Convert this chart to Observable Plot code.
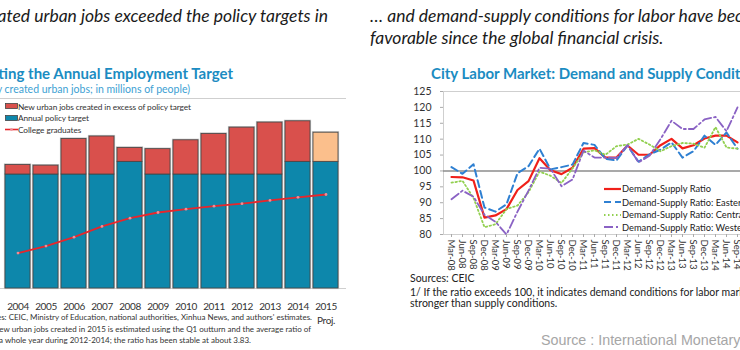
<!DOCTYPE html>
<html><head><meta charset="utf-8">
<script src="https://cdn.jsdelivr.net/npm/d3@7"></script>
<script src="https://cdn.jsdelivr.net/npm/@observablehq/plot@0.6"></script>
<style>
html,body{margin:0;padding:0;background:#fff;}
body{width:740px;height:350px;overflow:hidden;position:relative;font-family:Lato,"Open Sans",sans-serif;color:#222;}
svg{max-width:none !important;}
.abs{position:absolute;white-space:nowrap;}
.head{font-style:italic;font-size:17.5px;line-height:22px;color:#1a1a1a;}
.ttl{font-weight:bold;font-size:15px;line-height:16px;color:#1b8cc2;}
.sub{font-size:10.5px;line-height:12px;color:#3d9fd3;}
.leg{font-family:Lato,sans-serif;font-size:8.3px;line-height:10px;color:#333;letter-spacing:-0.1px;}
.cap{font-family:Lato,sans-serif;font-size:8px;line-height:10px;color:#333;}
.rleg{font-size:9.3px;line-height:12px;color:#222;}
.rcap{font-size:10.5px;line-height:11px;color:#222;}
#left{position:absolute;left:-3px;top:90px;width:349px;}
#right{position:absolute;left:370px;top:80px;width:400px;}
</style></head><body>

<div class="abs head" style="right:412px;top:5px;">Newly created urban jobs exceeded the policy targets in</div>
<div class="abs head" style="left:370px;top:5px;">… and demand-supply conditions for labor have become more<br>favorable since the global financial crisis.</div>
<div class="abs ttl" style="right:507px;top:65px;">Meeting the Annual Employment Target</div>
<div class="abs sub" style="right:550px;top:83px;">(Newly created urban jobs; in millions of people)</div>
<div class="abs ttl" style="left:431px;top:65px;">City Labor Market: Demand and Supply Conditions 1/</div>

<div id="left"></div>
<div id="right"></div>

<div id="lleg"></div>
<div id="rleg"></div>

<div class="abs cap" style="right:428px;top:312px;">Sources: CEIC, Ministry of Education, national authorities, Xinhua News, and authors' estimates.</div>
<div class="abs cap" style="right:429px;top:324px;">1/ New urban jobs created in 2015 is estimated using the Q1 outturn and the average ratio of</div>
<div class="abs cap" style="right:489px;top:335px;">Q1 to a whole year during 2012-2014; the ratio has been stable at about 3.83.</div>

<div class="abs rcap" style="left:410px;top:272.5px;">Sources: CEIC</div>
<div class="abs rcap" style="left:410px;top:286.5px;">1/ If the ratio exceeds 100, it indicates demand conditions for labor market are</div>
<div class="abs rcap" style="left:410px;top:297.5px;">stronger than supply conditions.</div>
<div class="abs" style="left:541px;top:332px;font-family:'Liberation Sans',Arial,sans-serif;font-size:14.3px;line-height:16px;color:#a6a6a6;">Source : International Monetary Fund</div>

<script>
// ---------- Left chart data ----------
const years = ["2004","2005","2006","2007","2008","2009","2010","2011","2012","2013","2014","2015"];
const policyTarget = [9, 9, 9, 9, 10, 9, 9, 9, 9, 9, 10, 10];
const newUrbanJobs = [9.75, 9.7, 11.8, 12.0, 11.1, 11.0, 11.7, 12.2, 12.7, 13.1, 13.2, 12.3];
const collegeGraduates = [2.8, 3.35, 4.05, 4.9, 5.55, 6.0, 6.26, 6.5, 6.7, 6.95, 7.2, 7.42];
const projectedYear = "2015";
const leftLegend = ["New urban jobs created in excess of policy target", "Annual policy target", "College graduates"];

// ---------- Right chart data ----------
const quarters = ["Mar-08","Jun-08","Sep-08","Dec-08","Mar-09","Jun-09","Sep-09","Dec-09",
  "Mar-10","Jun-10","Sep-10","Dec-10","Mar-11","Jun-11","Sep-11","Dec-11",
  "Mar-12","Jun-12","Sep-12","Dec-12","Mar-13","Jun-13","Sep-13","Dec-13",
  "Mar-14","Jun-14","Sep-14"];
const ratioAll     = [98.1, 98.0, 97.0, 85.3, 86.0, 88.0, 94.0, 96.8, 104.0, 100.2, 99.0, 101.0, 107.0, 107.2, 104.2, 104.2, 108.0, 105.1, 105.1, 108.1, 110.1, 107.1, 108.1, 110.2, 111.1, 111.1, 109.0];
const ratioEastern = [101.2, 99.1, 102.1, 88.5, 87.2, 89.5, 99.3, 101.5, 107.0, 100.5, 101.2, 102.0, 108.8, 108.2, 103.8, 103.3, 108.0, 102.9, 105.2, 106.7, 109.0, 104.2, 106.2, 111.1, 108.2, 112.1, 107.0];
const ratioCentral = [96.3, 96.9, 91.5, 82.3, 83.2, 88.0, 89.1, 93.3, 99.8, 98.5, 96.2, 100.8, 105.8, 106.5, 105.1, 107.8, 108.3, 110.1, 108.3, 106.2, 107.8, 108.8, 108.6, 107.3, 113.8, 107.4, 107.0];
const ratioWestern = [91.1, 93.8, 91.9, 86.2, 84.0, 80.0, 87.2, 93.8, 101.0, 100.7, 95.2, 97.3, 106.4, 104.2, 104.2, 104.1, 108.1, 102.7, 104.8, 110.0, 115.8, 113.2, 113.2, 116.2, 117.0, 112.5, 120.0];
const yTicksRight = [80, 85, 90, 95, 100, 105, 110, 115, 120, 125];
const rightLegend = ["Demand-Supply Ratio", "Demand-Supply Ratio: Eastern", "Demand-Supply Ratio: Central", "Demand-Supply Ratio: Western"];

// ---------- Colours ----------
const C_BLUE = "#0d87ab", C_RED = "#d9504c", C_PROJ = "#fbbf8c", C_GRAD = "#e8262b";
const seriesStyles = [
  {name: rightLegend[0], values: ratioAll,     stroke: "#f0201a", width: 2.2, dash: null},
  {name: rightLegend[1], values: ratioEastern, stroke: "#2f80d2", width: 2,   dash: "7,4"},
  {name: rightLegend[2], values: ratioCentral, stroke: "#92d050", width: 1.8, dash: "1.5,2.5"},
  {name: rightLegend[3], values: ratioWestern, stroke: "#8a62c4", width: 1.8, dash: "9,3,2,3"}
];

// ---------- Left chart ----------
const segs = [];
years.forEach((y, i) => {
  segs.push({year: y, y1: 0, y2: policyTarget[i], fill: C_BLUE});
  segs.push({year: y, y1: policyTarget[i], y2: newUrbanJobs[i], fill: y === projectedYear ? C_PROJ : C_RED});
});
const totals = years.map((y, i) => ({year: y, total: newUrbanJobs[i]}));
const grads = years.map((y, i) => ({year: y, value: collegeGraduates[i]}));

const left = Plot.plot({
  width: 349, height: 240,
  marginLeft: 0, marginRight: 0, marginTop: 8, marginBottom: 42,
  style: {fontFamily: "Lato, sans-serif", fontSize: "10px", letterSpacing: "-0.4px", color: "#333", background: "transparent"},
  x: {domain: years, padding: 0.1, label: null},
  y: {domain: [0, 15], label: null},
  marks: [
    Plot.frame({stroke: "#cfcfcf"}),
    Plot.barY(totals, {x: "year", y1: 0, y2: "total", fill: "none", stroke: "#c4c4c4", strokeWidth: 2.2}),
    Plot.barY(segs, {x: "year", y1: "y1", y2: "y2", fill: "fill", stroke: "#444", strokeWidth: 0.8}),
    Plot.line(grads, {x: "year", y: "value", stroke: C_GRAD, strokeWidth: 1.8}),
    Plot.dot(grads, {x: "year", y: "value", r: 1.4, fill: "#ee8d96"}),
    Plot.axisX({tickSize: 0, tickPadding: 11, lineHeight: 1.45, label: null,
      tickFormat: d => d === projectedYear ? d + "\nProj." : d})
  ]
});
document.getElementById("left").appendChild(left);

// ---------- Right chart ----------
const rows = [];
seriesStyles.forEach(s => quarters.forEach((q, i) => rows.push({series: s.name, q, v: s.values[i]})));

const right = Plot.plot({
  width: 400, height: 200,
  marginLeft: 73, marginRight: 25.4, marginTop: 11, marginBottom: 46,
  style: {fontFamily: "Lato, sans-serif", fontSize: "10px", color: "#333", background: "transparent"},
  x: {domain: quarters, type: "point", padding: 0, label: null},
  y: {domain: [80, 125], label: null},
  marks: [
    Plot.frame({stroke: "#cfcfcf"}),
    Plot.ruleY([100], {stroke: "#8c8c8c", strokeWidth: 1.5}),
    ...seriesStyles.map(s => Plot.line(rows.filter(r => r.series === s.name), {
      x: "q", y: "v", stroke: s.stroke, strokeWidth: s.width, strokeDasharray: s.dash
    })),
    Plot.axisY({ticks: yTicksRight, tickSize: 3, tickPadding: 9, stroke: "#aaa", fontSize: 10.5, label: null}),
    Plot.axisX({tickRotate: 90, tickSize: 3, tickPadding: 2, stroke: "#aaa", fontSize: 9.5, label: null})
  ]
});
document.getElementById("right").appendChild(right);

// ---------- Legends (HTML overlays) ----------
const lleg = document.getElementById("lleg");
const lswatch = [
  `<svg width="13" height="7"><rect x="0.5" y="0.5" width="12" height="5" fill="${C_RED}" stroke="#444" stroke-width="0.8"/></svg>`,
  `<svg width="13" height="7"><rect x="0.5" y="0.5" width="12" height="5" fill="${C_BLUE}" stroke="#444" stroke-width="0.8"/></svg>`,
  `<svg width="13" height="7"><line x1="0" x2="13" y1="3.5" y2="3.5" stroke="${C_GRAD}" stroke-width="1.6"/><circle cx="6.5" cy="3.5" r="1.3" fill="#ee8d96"/></svg>`
];
leftLegend.forEach((t, i) => {
  const d = document.createElement("div");
  d.className = "abs leg";
  d.style.left = "5px"; d.style.top = (100.5 + i * 11.7) + "px";
  d.innerHTML = `<span style="display:inline-block;vertical-align:middle;line-height:0;">${lswatch[i]}</span><span style="vertical-align:middle;">${t}</span>`;
  lleg.appendChild(d);
});

const rleg = document.getElementById("rleg");
seriesStyles.forEach((s, i) => {
  const d = document.createElement("div");
  d.className = "abs rleg";
  d.style.left = "603px"; d.style.top = ([182.3, 195.7, 208, 220.7][i]) + "px";
  d.innerHTML = `<svg width="19" height="12" style="vertical-align:middle"><line x1="1" x2="18" y1="6" y2="6" stroke="${s.stroke}" stroke-width="${s.width}" ${s.dash ? `stroke-dasharray="${s.dash}"` : ""}/></svg><span style="vertical-align:middle;">${s.name}</span>`;
  rleg.appendChild(d);
});
</script>
</body></html>
